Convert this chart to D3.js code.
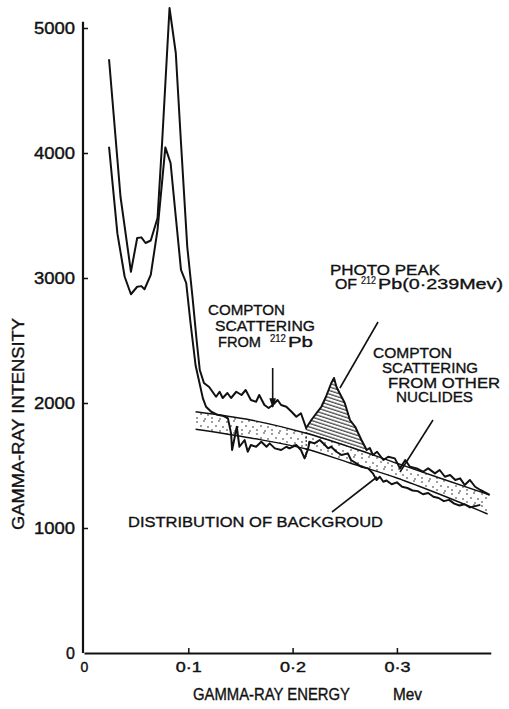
<!DOCTYPE html>
<html>
<head>
<meta charset="utf-8">
<script src="https://cdn.jsdelivr.net/npm/d3@7"></script>
<style>
  body { margin: 0; background: #fff; }
  text { font-family: "Liberation Sans", Arial, sans-serif; fill: #111; }
</style>
</head>
<body>
<div id="chart"></div>
<script>
// ---- data ----
// upper trace: total gamma-ray spectrum
const totalEnergy = [0.024, 0.035, 0.045, 0.051, 0.055, 0.059, 0.064, 0.0705, 0.075, 0.082, 0.088, 0.093,
  0.099, 0.104, 0.108, 0.111, 0.115, 0.120, 0.1266, 0.130, 0.133, 0.1375, 0.141, 0.146, 0.151, 0.155,
  0.160, 0.165, 0.168, 0.173, 0.177, 0.181, 0.1856, 0.189, 0.194, 0.199, 0.2036, 0.208, 0.213, 0.218,
  0.223, 0.2276, 0.232, 0.237, 0.2397, 0.242, 0.245, 0.250, 0.255, 0.260, 0.266, 0.271, 0.274, 0.277,
  0.281, 0.287, 0.2917, 0.298, 0.303, 0.308, 0.3125, 0.319, 0.325, 0.330, 0.3365, 0.341, 0.346, 0.351,
  0.356, 0.3606, 0.365, 0.370, 0.375, 0.380, 0.389];
const totalCounts = [4750, 3650, 3050, 3320, 3325, 3280, 3300, 3480, 4100, 5160, 4800, 4080,
  3250, 2850, 2500, 2264, 2160, 2128, 2050, 2090, 2040, 2080, 2040, 2090, 2064, 2104,
  2024, 2010, 2064, 1984, 1960, 1984, 2024, 1984, 1970, 1930, 1890, 1918, 1800, 1864,
  1920, 1970, 2050, 2158, 2200, 2130, 2080, 2000, 1864, 1810, 1704, 1624, 1640, 1584,
  1610, 1544, 1570, 1557, 1477, 1544, 1490, 1477, 1450, 1477, 1437, 1464, 1410, 1424,
  1384, 1397, 1344, 1384, 1330, 1304, 1264];

// lower trace
const lowerEnergy = [0.024, 0.032, 0.039, 0.045, 0.051, 0.055, 0.058, 0.064, 0.0705, 0.078, 0.083, 0.088,
  0.093, 0.098, 0.102, 0.107, 0.114, 0.117, 0.122, 0.128, 0.134, 0.138, 0.141, 0.142, 0.1465, 0.149,
  0.154, 0.157, 0.160, 0.165, 0.170, 0.175, 0.178, 0.183, 0.189, 0.194, 0.197, 0.2035, 0.208, 0.2115,
  0.215, 0.216, 0.221, 0.226, 0.231, 0.234, 0.237, 0.242, 0.247, 0.253, 0.256, 0.261, 0.266, 0.2724,
  0.277, 0.2805, 0.2836, 0.287, 0.290, 0.295, 0.300, 0.305, 0.310, 0.315, 0.320, 0.325, 0.330, 0.335,
  0.340, 0.345, 0.350, 0.355, 0.360, 0.365, 0.370, 0.375, 0.380];
const lowerCounts = [4050, 3357, 3010, 2870, 2930, 2935, 2910, 3025, 3385, 4045, 3920, 3490,
  3065, 2960, 2650, 2300, 2037, 1970, 1930, 1905, 1895, 1877, 1757, 1624, 1810, 1650,
  1704, 1610, 1664, 1650, 1690, 1650, 1677, 1637, 1624, 1650, 1637, 1664, 1624, 1557,
  1637, 1690, 1677, 1704, 1664, 1637, 1650, 1610, 1584, 1597, 1544, 1517, 1490, 1477,
  1437, 1384, 1410, 1370, 1380, 1350, 1365, 1330, 1320, 1300, 1295, 1270, 1280, 1250,
  1240, 1215, 1225, 1195, 1180, 1190, 1165, 1175, 1185];

// background band (dotted)
const bandEnergy = [0.107, 0.160, 0.213, 0.255, 0.300, 0.341, 0.387];
const bandUpper  = [1930, 1864, 1758, 1648, 1518, 1400, 1270];
const bandLower  = [1790, 1720, 1632, 1520, 1400, 1270, 1112];

// photo peak shading limits
const peakRange = [0.213, 0.271];

const yTickValues = [0, 1000, 2000, 3000, 4000, 5000];
const xTickValues = [0, 0.1, 0.2, 0.3];

// ---- layout ----
const width = 509, height = 709;
const svg = d3.select("#chart").append("svg")
  .attr("width", width).attr("height", height);

const x = d3.scaleLinear().domain([0, 0.39]).range([84, 84 + 0.39 * 1043]);
const y = d3.scaleLinear().domain([0, 5000]).range([653, 28]);

const defs = svg.append("defs");

// stipple for the background band
const dots = defs.append("pattern").attr("id", "dots")
  .attr("patternUnits", "userSpaceOnUse").attr("width", 15).attr("height", 12);
[[2, 2], [9, 1], [6, 6], [13, 7], [2, 10], [10, 11]].forEach(p =>
  dots.append("circle").attr("cx", p[0]).attr("cy", p[1]).attr("r", 0.8).attr("fill", "#222"));

// diagonal hatching for the photo peak
const hatch = defs.append("pattern").attr("id", "hatch")
  .attr("patternUnits", "userSpaceOnUse").attr("width", 8).attr("height", 3.4)
  .attr("patternTransform", "rotate(18)");
hatch.append("line").attr("x1", 0).attr("x2", 8).attr("y1", 1).attr("y2", 1)
  .attr("stroke", "#111").attr("stroke-width", 1);

defs.append("marker").attr("id", "arrow")
  .attr("viewBox", "0 0 10 10").attr("refX", 9).attr("refY", 5)
  .attr("markerWidth", 6).attr("markerHeight", 6).attr("orient", "auto")
  .append("path").attr("d", "M0,1.5 L10,5 L0,8.5 Z").attr("fill", "#111");

const total = totalEnergy.map((e, i) => ({ e, c: totalCounts[i] }));
const lower = lowerEnergy.map((e, i) => ({ e, c: lowerCounts[i] }));
const band = bandEnergy.map((e, i) => ({ e, hi: bandUpper[i], lo: bandLower[i] }));

// band fill + edges
svg.append("path").datum(band)
  .attr("d", d3.area().x(d => x(d.e)).y0(d => y(d.lo)).y1(d => y(d.hi)).curve(d3.curveMonotoneX))
  .attr("fill", "url(#dots)");

["hi", "lo"].forEach(k => {
  svg.append("path").datum(band)
    .attr("d", d3.line().x(d => x(d.e)).y(d => y(d[k])).curve(d3.curveMonotoneX))
    .attr("fill", "none").attr("stroke", "#111").attr("stroke-width", 1.4);
});

// hatched photo peak between total trace and top of band
const bandTopAt = d3.scaleLinear().domain(bandEnergy).range(bandUpper);
const peakPts = total.filter(d => d.e >= peakRange[0] && d.e <= peakRange[1]);
svg.append("path").datum(peakPts)
  .attr("d", d3.area().x(d => x(d.e))
    .y0(d => y(bandTopAt(d.e)))
    .y1(d => y(Math.max(d.c, bandTopAt(d.e)))))
  .attr("fill", "url(#hatch)");

// dashed divider at start of peak
svg.append("line")
  .attr("x1", x(peakRange[0])).attr("x2", x(peakRange[0]))
  .attr("y1", y(1800)).attr("y2", y(1570))
  .attr("stroke", "#111").attr("stroke-width", 1).attr("stroke-dasharray", "2,2");

// spectra
const line = d3.line().x(d => x(d.e)).y(d => y(d.c));
[lower, total].forEach(series => {
  svg.append("path").datum(series)
    .attr("d", line)
    .attr("fill", "none").attr("stroke", "#111")
    .attr("stroke-width", 2).attr("stroke-linejoin", "round");
});

// ---- axes ----
const yAxis = svg.append("g").attr("transform", `translate(${x(0) - 1},0)`)
  .call(d3.axisLeft(y).tickValues(yTickValues).tickSize(-5).tickSizeOuter(0).tickPadding(8)
    .tickFormat(d => d === 0 ? "0" : d));
const xAxis = svg.append("g").attr("transform", `translate(0,${y(0)})`)
  .call(d3.axisBottom(x).tickValues(xTickValues).tickSize(-5).tickSizeOuter(0).tickPadding(9)
    .tickFormat(d => d === 0 ? "0" : d3.format(".1f")(d).replace(".", "·")));

// the drawn vertical axis runs a little past the top tick
yAxis.select(".domain").attr("d", `M0,${y(0)}V${y(5050)}`);

[yAxis, xAxis].forEach(g => {
  g.select(".domain").attr("stroke", "#111").attr("stroke-width", 2.2);
  g.selectAll(".tick line").attr("stroke", "#111").attr("stroke-width", 1.5);
  g.selectAll(".tick text").attr("fill", "#111").attr("stroke", "#111").attr("stroke-width", 0.4)
    .style("font-family", '"Liberation Sans", Arial, sans-serif');
});
yAxis.selectAll(".tick text").style("font-size", "16px")
  .filter(d => d !== 0).attr("textLength", 41).attr("lengthAdjust", "spacingAndGlyphs");
xAxis.selectAll(".tick text").style("font-size", "14px")
  .filter(d => d !== 0).attr("textLength", 26).attr("lengthAdjust", "spacingAndGlyphs");
xAxis.selectAll(".tick").filter(d => d === 0).select("line").remove();
yAxis.selectAll(".tick").filter(d => d === 0).select("line").remove();

// axis titles
const titleStyle = sel => sel.attr("lengthAdjust", "spacingAndGlyphs")
  .attr("stroke", "#111").attr("stroke-width", 0.35).style("font-size", "16px");
svg.append("text").attr("x", 193).attr("y", 700).attr("textLength", 157)
  .call(titleStyle).text("GAMMA-RAY ENERGY");
svg.append("text").attr("x", 393).attr("y", 700).attr("textLength", 29)
  .call(titleStyle).text("Mev");
svg.append("text").attr("transform", "translate(24,530) rotate(-90)").attr("textLength", 212)
  .call(titleStyle).text("GAMMA-RAY  INTENSITY");

// ---- annotations (anchored in data units) ----
const notes = [
  { t: "PHOTO PEAK", e: 0.2359, c: 3024, len: 110 },
  { t: "OF", e: 0.2407, c: 2912, len: 22 },
  { t: "212", e: 0.2656, c: 2952, len: 15, sup: true },
  { t: "Pb(0·239Mev)", e: 0.2819, c: 2912, len: 125 },
  { t: "COMPTON", e: 0.1189, c: 2704, len: 77 },
  { t: "SCATTERING", e: 0.1256, c: 2576, len: 100 },
  { t: "FROM", e: 0.1285, c: 2448, len: 43 },
  { t: "212", e: 0.1783, c: 2488, len: 16, sup: true },
  { t: "Pb", e: 0.1956, c: 2448, len: 25 },
  { t: "COMPTON", e: 0.2771, c: 2360, len: 79 },
  { t: "SCATTERING", e: 0.2857, c: 2240, len: 96 },
  { t: "FROM  OTHER", e: 0.2915, c: 2120, len: 112 },
  { t: "NUCLIDES", e: 0.2991, c: 2008, len: 77 },
  { t: "DISTRIBUTION   OF   BACKGROUD", e: 0.0422, c: 1008, len: 255 }
];
svg.append("g").selectAll("text").data(notes).join("text")
  .attr("x", d => x(d.e)).attr("y", d => y(d.c))
  .attr("textLength", d => d.len).attr("lengthAdjust", "spacingAndGlyphs")
  .attr("stroke", "#111").attr("stroke-width", d => d.sup ? 0.2 : 0.35)
  .style("font-size", d => d.sup ? "10px" : "15px")
  .text(d => d.t);

const pointers = [
  { from: [0.2819, 2648], to: [0.2454, 2120], arrow: false },
  { from: [0.1809, 2280], to: [0.1809, 1968], arrow: true },
  { from: [0.3346, 1864], to: [0.3030, 1448], arrow: false },
  { from: [0.2378, 1128], to: [0.2809, 1408], arrow: false }
];
pointers.forEach(p => {
  svg.append("line")
    .attr("x1", x(p.from[0])).attr("y1", y(p.from[1]))
    .attr("x2", x(p.to[0])).attr("y2", y(p.to[1]))
    .attr("stroke", "#111").attr("stroke-width", 1.6)
    .attr("marker-end", p.arrow ? "url(#arrow)" : null);
});
</script>
</body>
</html>
